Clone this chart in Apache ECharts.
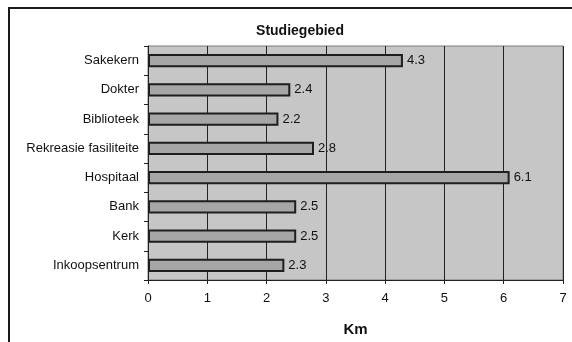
<!DOCTYPE html>
<html>
<head>
<meta charset="utf-8">
<script src="https://cdn.jsdelivr.net/npm/echarts@6/dist/echarts.min.js"></script>
<style>
  html, body { margin: 0; padding: 0; background: #ffffff; }
  #chart { width: 572px; height: 342px; }
</style>
</head>
<body>
<div id="chart"></div>
<script>
// Distance (km) to facilities in the study area, listed top to bottom
const categories = ['Sakekern', 'Dokter', 'Biblioteek', 'Rekreasie fasiliteite', 'Hospitaal', 'Bank', 'Kerk', 'Inkoopsentrum'];
const distances = [4.3, 2.4, 2.2, 2.8, 6.1, 2.5, 2.5, 2.3];
const xTicks = [0, 1, 2, 3, 4, 5, 6, 7];

const FONT = '"Liberation Sans", Arial, sans-serif';

const chart = echarts.init(document.getElementById('chart'), null, { renderer: 'canvas' });

chart.setOption({
  animation: false,
  backgroundColor: '#ffffff',
  title: {
    text: 'Studiegebied',
    left: 295,
    top: 19,
    textAlign: 'center',
    textStyle: { fontFamily: FONT, fontSize: 14, fontWeight: 'bold', color: '#111' }
  },
  graphic: [{
    type: 'rect',
    shape: { x: 9, y: 8, width: 620, height: 400 },
    style: { fill: null, stroke: '#1a1a1a', lineWidth: 2 },
    silent: true,
    z: 100
  }],
  grid: {
    left: 148, right: 9, top: 46, bottom: 60,
    show: true,
    backgroundColor: '#c6c6c6',
    borderColor: '#7a7a7a',
    borderWidth: 1
  },
  xAxis: {
    type: 'value',
    min: xTicks[0],
    max: xTicks[xTicks.length - 1],
    interval: 1,
    name: 'Km',
    nameLocation: 'middle',
    nameGap: 42,
    nameTextStyle: { fontFamily: FONT, fontSize: 15, fontWeight: 'bold', color: '#111' },
    axisLine: { show: true, lineStyle: { color: '#222', width: 1 } },
    axisTick: { show: true, inside: false, length: 4, lineStyle: { color: '#222' } },
    axisLabel: { margin: 12, fontFamily: FONT, fontSize: 13, color: '#111' },
    splitLine: { show: true, lineStyle: { color: '#222', width: 1 } }
  },
  yAxis: {
    type: 'category',
    data: categories,
    inverse: true,
    axisLine: { show: true, lineStyle: { color: '#222', width: 1 } },
    axisTick: { show: true, length: 4, lineStyle: { color: '#222' } },
    axisLabel: { margin: 9, fontFamily: FONT, fontSize: 13, color: '#111' },
    splitLine: { show: false }
  },
  series: [{
    type: 'bar',
    data: distances,
    barWidth: '46%',
    itemStyle: { color: '#a6a6a6', borderColor: '#1e1e1e', borderWidth: 2 },
    label: {
      show: true,
      position: 'right',
      distance: 4,
      fontFamily: FONT,
      fontSize: 13,
      color: '#111',
      formatter: p => p.value.toFixed(1)
    }
  }]
});
</script>
</body>
</html>
